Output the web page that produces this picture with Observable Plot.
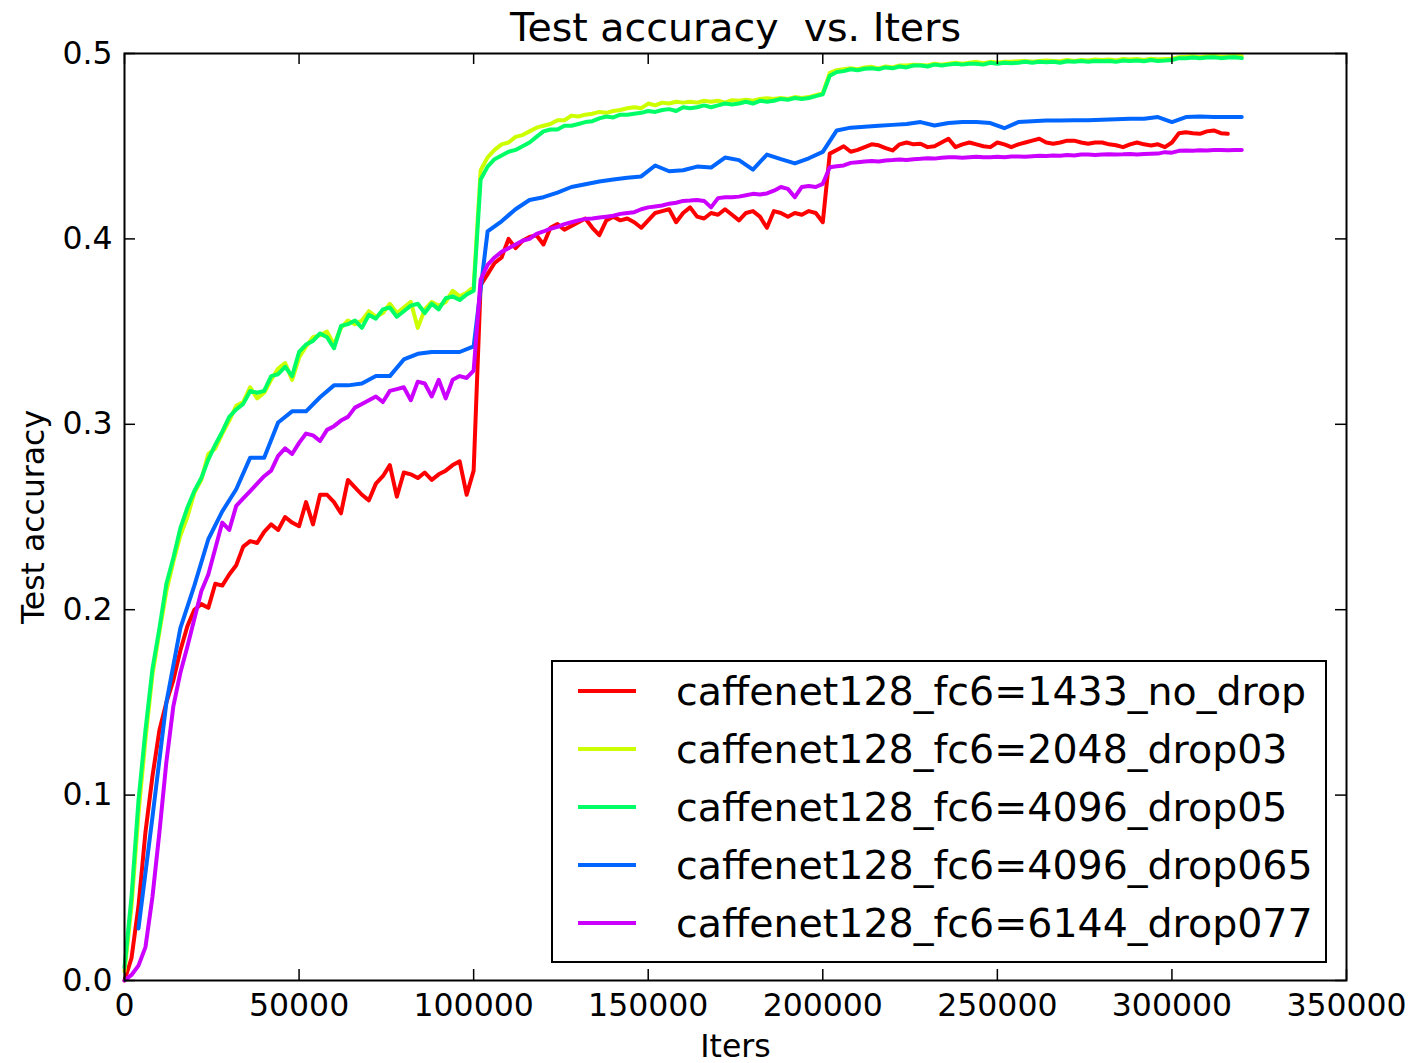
<!DOCTYPE html>
<html><head><meta charset="utf-8">
<script src="https://cdn.jsdelivr.net/npm/d3@7"></script>
<script src="https://cdn.jsdelivr.net/npm/@observablehq/plot@0.6"></script>
<style>
html,body{margin:0;padding:0;background:#fff;}
#chart svg text{white-space:pre;}
</style></head><body><div id="chart"></div>
<script>
// ---------- data ----------
const titleText = "Test accuracy  vs. Iters";
const xLabelText = "Iters";
const yLabelText = "Test accuracy";
const seriesNames = [
  "caffenet128_fc6=1433_no_drop",
  "caffenet128_fc6=2048_drop03",
  "caffenet128_fc6=4096_drop05",
  "caffenet128_fc6=4096_drop065",
  "caffenet128_fc6=6144_drop077"
];
const seriesColors = ["#ff0000", "#ccff00", "#00ff66", "#0066ff", "#cc00ff"];
const xTicks = [0, 50000, 100000, 150000, 200000, 250000, 300000, 350000];
const yTicks = [0, 0.1, 0.2, 0.3, 0.4, 0.5];
const yTickLabels = ["0.0", "0.1", "0.2", "0.3", "0.4", "0.5"];

// test every 2000 iterations, starting at 0
const denseStart = 0, denseStep = 2000;
// the fc6=4096_drop065 run was tested every 4000 iterations, starting at 4000
const sparseStart = 4000, sparseStep = 4000;

const accNoDrop1433 = [
  0.000, 0.012, 0.040, 0.080, 0.110, 0.135, 0.150, 0.162, 0.178, 0.191,
  0.200, 0.203, 0.201, 0.214, 0.213, 0.219, 0.224, 0.234, 0.237, 0.236,
  0.242, 0.246, 0.243, 0.250, 0.247, 0.245, 0.258, 0.246, 0.262, 0.262,
  0.258, 0.252, 0.270, 0.266, 0.262, 0.259, 0.268, 0.272, 0.278, 0.261,
  0.274, 0.273, 0.271, 0.274, 0.270, 0.273, 0.275, 0.278, 0.280, 0.262,
  0.275, 0.375, 0.381, 0.387, 0.390, 0.400, 0.395, 0.399, 0.401, 0.402,
  0.397, 0.406, 0.408, 0.405, 0.407, 0.409, 0.411, 0.406, 0.402, 0.410,
  0.412, 0.410, 0.411, 0.409, 0.406, 0.410, 0.414, 0.415, 0.416, 0.409,
  0.414, 0.417, 0.412, 0.411, 0.414, 0.413, 0.416, 0.413, 0.410, 0.414,
  0.415, 0.412, 0.406, 0.415, 0.414, 0.412, 0.414, 0.413, 0.415, 0.414,
  0.409, 0.446, 0.448, 0.450, 0.447, 0.448, 0.4495, 0.451, 0.4505, 0.449,
  0.4477, 0.451, 0.452, 0.451, 0.4513, 0.4495, 0.450, 0.452, 0.454, 0.4495,
  0.451, 0.452, 0.451, 0.450, 0.4495, 0.452, 0.451, 0.4495, 0.451, 0.452,
  0.453, 0.454, 0.452, 0.4513, 0.452, 0.453, 0.453, 0.452, 0.4513, 0.452,
  0.452, 0.451, 0.4505, 0.4495, 0.451, 0.452, 0.451, 0.4504, 0.451, 0.4495,
  0.452, 0.457, 0.4575, 0.457, 0.4567, 0.458, 0.4585, 0.457, 0.4567
];
const accDrop03_2048 = [
  0.005, 0.040, 0.090, 0.130, 0.165, 0.188, 0.210, 0.226, 0.240, 0.250,
  0.263, 0.270, 0.284, 0.287, 0.295, 0.302, 0.310, 0.312, 0.320, 0.314,
  0.317, 0.324, 0.330, 0.333, 0.324, 0.336, 0.342, 0.347, 0.348, 0.350,
  0.343, 0.352, 0.356, 0.354, 0.356, 0.361, 0.358, 0.360, 0.365, 0.360,
  0.363, 0.366, 0.352, 0.362, 0.366, 0.364, 0.366, 0.372, 0.369, 0.371,
  0.374, 0.437, 0.444, 0.448, 0.451, 0.452, 0.455, 0.456, 0.458, 0.460,
  0.461, 0.462, 0.464, 0.464, 0.4665, 0.466, 0.467, 0.4675, 0.4685, 0.468,
  0.469, 0.4695, 0.4705, 0.471, 0.4705, 0.473, 0.472, 0.4735, 0.473, 0.474,
  0.4735, 0.474, 0.4735, 0.4745, 0.474, 0.4745, 0.4735, 0.4748, 0.4745, 0.475,
  0.4745, 0.4755, 0.4758, 0.4755, 0.476, 0.4755, 0.4765, 0.476, 0.4765, 0.4775,
  0.4785, 0.4895, 0.491, 0.4915, 0.492, 0.4915, 0.4925, 0.4928, 0.492, 0.493,
  0.4925, 0.4935, 0.4935, 0.494, 0.4938, 0.4935, 0.4945, 0.494, 0.4945, 0.495,
  0.4945, 0.495, 0.4955, 0.4948, 0.4955, 0.495, 0.4955, 0.4955, 0.4958, 0.496,
  0.4955, 0.496, 0.4962, 0.496, 0.4958, 0.4965, 0.496, 0.4965, 0.4962, 0.4968,
  0.4965, 0.4968, 0.4962, 0.497, 0.4968, 0.497, 0.4965, 0.4972, 0.4968, 0.497,
  0.4972, 0.498, 0.4982, 0.4985, 0.498, 0.4985, 0.4988, 0.4983, 0.4985, 0.4988,
  0.4985
];
const accDrop05_4096 = [
  0.007, 0.045, 0.097, 0.135, 0.168, 0.190, 0.214, 0.228, 0.244, 0.255,
  0.264, 0.271, 0.281, 0.289, 0.296, 0.304, 0.308, 0.311, 0.318, 0.317,
  0.318, 0.326, 0.327, 0.331, 0.326, 0.339, 0.343, 0.345, 0.349, 0.347,
  0.341, 0.353, 0.354, 0.356, 0.352, 0.359, 0.357, 0.362, 0.363, 0.358,
  0.361, 0.364, 0.365, 0.360, 0.365, 0.362, 0.368, 0.369, 0.367, 0.370,
  0.372, 0.432, 0.439, 0.443, 0.445, 0.447, 0.448, 0.450, 0.452, 0.455,
  0.458, 0.459, 0.459, 0.461, 0.461, 0.462, 0.463, 0.4635, 0.465, 0.466,
  0.4655, 0.467, 0.467, 0.4675, 0.468, 0.469, 0.4685, 0.4695, 0.470, 0.469,
  0.471, 0.4705, 0.471, 0.472, 0.471, 0.472, 0.473, 0.4725, 0.473, 0.474,
  0.473, 0.4745, 0.474, 0.4745, 0.4755, 0.475, 0.476, 0.4755, 0.476, 0.477,
  0.478, 0.488, 0.490, 0.4905, 0.4915, 0.491, 0.4918, 0.492, 0.4915, 0.4925,
  0.492, 0.493, 0.4925, 0.4935, 0.4935, 0.493, 0.494, 0.4935, 0.494, 0.4945,
  0.494, 0.4945, 0.4945, 0.494, 0.495, 0.4944, 0.495, 0.4948, 0.495, 0.4955,
  0.495, 0.4955, 0.4953, 0.4955, 0.495, 0.4958, 0.4955, 0.496, 0.4955, 0.496,
  0.4958, 0.496, 0.4955, 0.4962, 0.496, 0.4962, 0.4958, 0.4965, 0.496, 0.4962,
  0.4965, 0.4975, 0.4975, 0.4978, 0.4975, 0.4978, 0.498, 0.4975, 0.4978, 0.498,
  0.4975
];
const accDrop065_4096 = [
  0.028, 0.088, 0.150, 0.190, 0.213, 0.238, 0.253, 0.265, 0.282, 0.282,
  0.301, 0.307, 0.307, 0.3146, 0.321, 0.321, 0.322, 0.326, 0.326, 0.335,
  0.338, 0.339, 0.339, 0.339, 0.342, 0.404, 0.4095, 0.416, 0.421, 0.4225,
  0.425, 0.428, 0.4295, 0.431, 0.432, 0.433, 0.4337, 0.4396, 0.4365, 0.437,
  0.439, 0.4385, 0.4439, 0.4425, 0.4374, 0.4455, 0.443, 0.4407, 0.4435, 0.4469,
  0.4585, 0.460, 0.4605, 0.461, 0.4615, 0.462, 0.463, 0.4612, 0.4625, 0.463,
  0.463, 0.4625, 0.4597, 0.463, 0.4635, 0.4638, 0.4638, 0.464, 0.464, 0.4642,
  0.4645, 0.4648, 0.4648, 0.4657, 0.463, 0.4657, 0.466, 0.4658, 0.4657, 0.4657
];
const accDrop077_6144 = [
  0.000, 0.003, 0.008, 0.018, 0.045, 0.080, 0.118, 0.148, 0.166, 0.180,
  0.195, 0.210, 0.219, 0.233, 0.247, 0.243, 0.256, 0.260, 0.264, 0.268,
  0.272, 0.275, 0.283, 0.287, 0.284, 0.290, 0.295, 0.294, 0.291, 0.297,
  0.299, 0.302, 0.304, 0.309, 0.311, 0.313, 0.315, 0.312, 0.318, 0.319,
  0.320, 0.313, 0.323, 0.322, 0.315, 0.324, 0.314, 0.324, 0.326, 0.325,
  0.329, 0.378, 0.386, 0.390, 0.393, 0.395, 0.397, 0.399, 0.400, 0.4027,
  0.404, 0.4055, 0.4065, 0.408, 0.409, 0.410, 0.4108, 0.411, 0.4115, 0.412,
  0.4125, 0.4135, 0.414, 0.4144, 0.416, 0.417, 0.4175, 0.418, 0.419, 0.4195,
  0.4205, 0.4207, 0.421, 0.4205, 0.417, 0.422, 0.4225, 0.4225, 0.4228, 0.4235,
  0.4243, 0.424, 0.4245, 0.426, 0.428, 0.427, 0.4225, 0.428, 0.4285, 0.428,
  0.4297, 0.4387, 0.4392, 0.4396, 0.441, 0.4414, 0.4418, 0.442, 0.4418, 0.4423,
  0.4425, 0.4428, 0.4425, 0.443, 0.4432, 0.4435, 0.4433, 0.4438, 0.444, 0.4441,
  0.4438, 0.4441, 0.4443, 0.444, 0.4441, 0.4443, 0.4441, 0.4444, 0.4445, 0.4443,
  0.4446, 0.4448, 0.4447, 0.445, 0.4448, 0.4452, 0.445, 0.4455, 0.4455, 0.4453,
  0.4455, 0.4457, 0.4455, 0.4456, 0.4458, 0.4455, 0.4458, 0.4459, 0.446, 0.4468,
  0.4465, 0.4475, 0.4477, 0.4476, 0.4478, 0.4477, 0.4479, 0.448, 0.4478, 0.448,
  0.448
];

// ---------- table ----------
const table = [];
function addSeries(name, start, step, values) {
  values.forEach((v, i) => table.push({series: name, iter: start + i * step, acc: v}));
}
addSeries(seriesNames[0], denseStart, denseStep, accNoDrop1433);
addSeries(seriesNames[1], denseStart, denseStep, accDrop03_2048);
addSeries(seriesNames[2], denseStart, denseStep, accDrop05_4096);
addSeries(seriesNames[3], sparseStart, sparseStep, accDrop065_4096);
addSeries(seriesNames[4], denseStart, denseStep, accDrop077_6144);

// ---------- layout ----------
const W = 1412, H = 1063;
const mL = 124, mR = 66, mT = 53, mB = 83;
const innerW = W - mL - mR, innerH = H - mT - mB;
const tickLen = 11;

const chart = Plot.plot({
  width: W, height: H,
  marginLeft: mL, marginRight: mR, marginTop: mT, marginBottom: mB,
  style: {fontFamily: "'DejaVu Sans', sans-serif", fontSize: "31.5px", background: "#fff", color: "#000"},
  x: {domain: [0, 350000], label: null},
  y: {domain: [0, 0.5], label: null},
  color: {domain: seriesNames, range: seriesColors},
  marks: [
    Plot.line(table, {x: "iter", y: "acc", z: "series", stroke: "series", strokeWidth: 4, strokeLinejoin: "round"}),
    Plot.tickX(xTicks, {x: d => d, insetTop: innerH - tickLen, stroke: "#000", strokeWidth: 1.5}),
    Plot.tickX(xTicks, {x: d => d, insetBottom: innerH - tickLen, stroke: "#000", strokeWidth: 1.5}),
    Plot.tickY(yTicks, {y: d => d, insetRight: innerW - tickLen, stroke: "#000", strokeWidth: 1.5}),
    Plot.tickY(yTicks, {y: d => d, insetLeft: innerW - tickLen, stroke: "#000", strokeWidth: 1.5}),
    Plot.axisX(xTicks, {tickSize: 0, tickPadding: 13, tickFormat: d => String(d), label: null}),
    Plot.axisY(yTicks, {tickSize: 0, tickPadding: 12, tickFormat: (d, i) => yTickLabels[i], label: null}),
    Plot.frame({stroke: "#000", strokeWidth: 2}),
    Plot.text([titleText], {frameAnchor: "top", lineAnchor: "bottom", textAnchor: "middle", dy: -13, fontSize: 39.5, text: d => d}),
    Plot.text([xLabelText], {frameAnchor: "bottom", lineAnchor: "bottom", textAnchor: "middle", dy: 76, fontSize: 31.5, text: d => d}),
    Plot.text([yLabelText], {frameAnchor: "left", lineAnchor: "bottom", textAnchor: "middle", rotate: -90, dx: -81, fontSize: 31.5, text: d => d})
  ]
});
document.getElementById("chart").appendChild(chart);

// ---------- legend ----------
const svg = d3.select(chart);
const lg = svg.append("g")
  .attr("font-family", "'DejaVu Sans', sans-serif")
  .attr("font-size", 39.5)
  .attr("text-anchor", "start");
const box = {x: 552, y: 661, w: 774, h: 301};
lg.append("rect").attr("x", box.x).attr("y", box.y).attr("width", box.w).attr("height", box.h)
  .attr("fill", "#fff").attr("stroke", "#000").attr("stroke-width", 2);
seriesNames.forEach((name, i) => {
  const cy = 691 + i * 58;
  lg.append("line").attr("x1", 578).attr("x2", 636).attr("y1", cy).attr("y2", cy)
    .attr("stroke", seriesColors[i]).attr("stroke-width", 4);
  lg.append("text").attr("x", 676).attr("y", cy + 14).attr("fill", "#000")
    .attr("text-anchor", "start").text(name);
});
</script></body></html>
